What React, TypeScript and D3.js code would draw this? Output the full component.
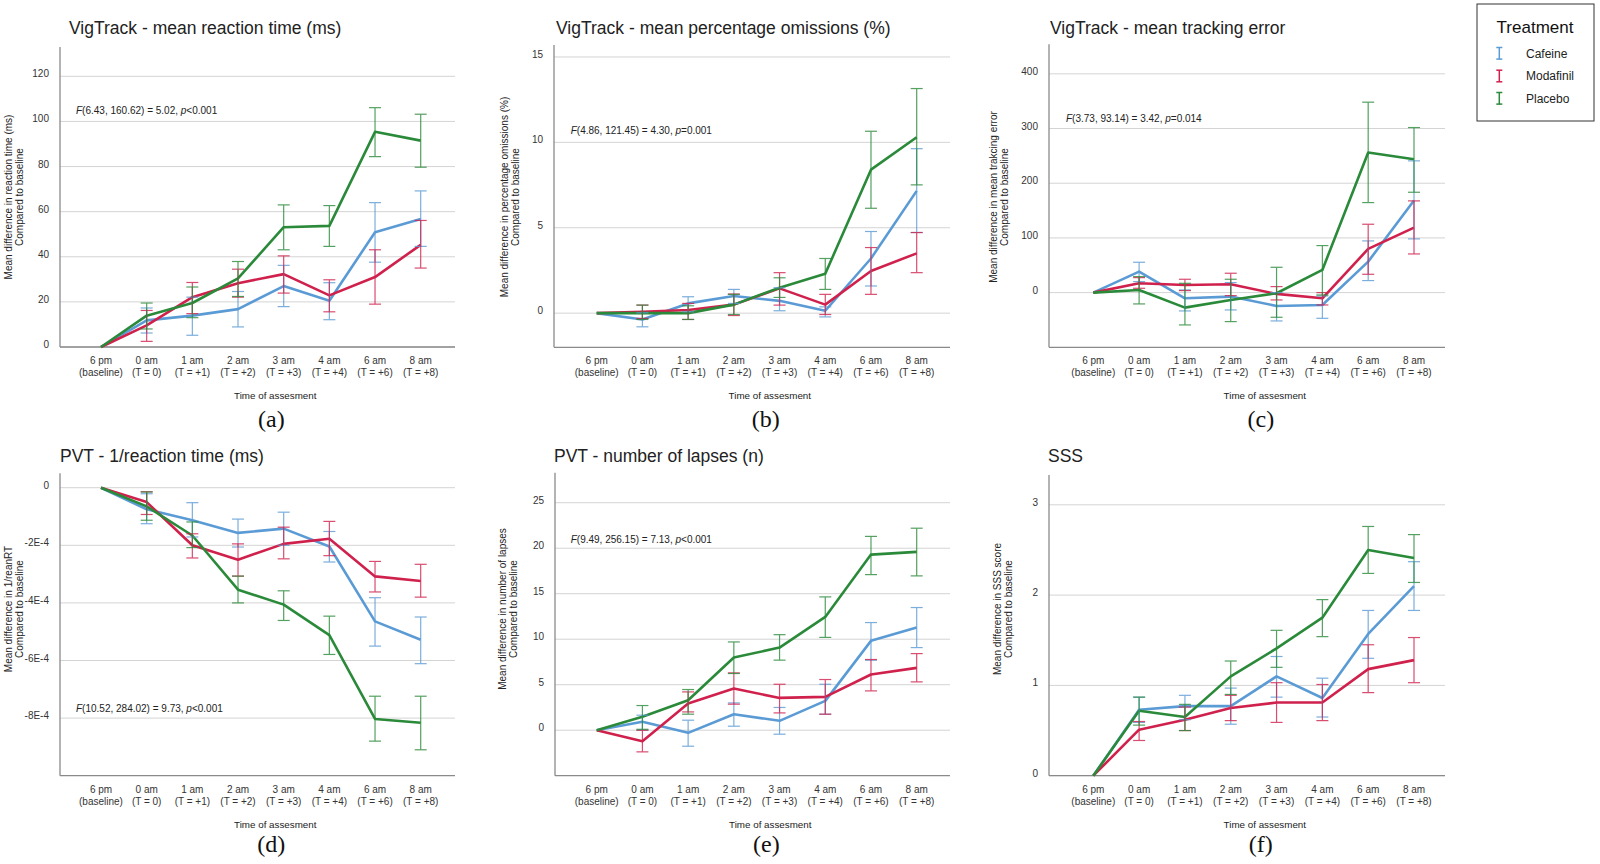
import React from 'react';
import * as d3 from 'd3';

// x categories (two-line tick labels)
const timeLabels: [string, string][] = [
  ['6 pm', '(baseline)'],
  ['0 am', '(T = 0)'],
  ['1 am', '(T = +1)'],
  ['2 am', '(T = +2)'],
  ['3 am', '(T = +3)'],
  ['4 am', '(T = +4)'],
  ['6 am', '(T = +6)'],
  ['8 am', '(T = +8)'],
];
const treatments = ['Cafeine', 'Modafinil', 'Placebo'];
const treatmentColors = ['#5b9bd5', '#d0214d', '#2a8a3a'];

// each point: [mean, lower CI, upper CI]
type Pt = [number, number, number];

// (a) VigTrack - mean reaction time
const rtCafeine: Pt[] = [[0, 0, 0], [11.8, 6.2, 17.3], [13.9, 5.2, 22.1], [16.8, 8.9, 24.6], [27.0, 17.9, 36.2], [20.5, 12.1, 28.5], [50.9, 37.6, 64.0], [56.8, 44.6, 69.2]];
const rtModafinil: Pt[] = [[0, 0, 0], [9.6, 2.5, 16.2], [22.1, 14.8, 28.6], [28.3, 22.1, 34.5], [32.3, 23.9, 40.4], [22.9, 15.6, 29.8], [31.0, 19.0, 43.1], [45.3, 35.0, 56.1]];
const rtPlacebo: Pt[] = [[0, 0, 0], [13.9, 8.0, 19.5], [19.5, 13.0, 26.6], [30.4, 22.4, 37.9], [53.1, 43.1, 63.0], [53.7, 44.6, 62.7], [95.4, 84.4, 106.1], [91.5, 79.7, 103.2]];
const rtTicks = [0, 20, 40, 60, 80, 100, 120];

// (b) VigTrack - mean percentage omissions
const omCafeine: Pt[] = [[0, 0, 0], [-0.37, -0.8, 0.02], [0.57, 0.08, 0.96], [1.0, 0.57, 1.39], [0.72, 0.14, 1.49], [0.14, -0.22, 0.37], [3.2, 1.59, 4.78], [7.16, 4.72, 9.63]];
const omModafinil: Pt[] = [[0, 0, 0], [0.08, -0.31, 0.47], [0.18, -0.37, 0.57], [0.5, -0.14, 1.12], [1.45, 0.47, 2.37], [0.5, -0.08, 1.1], [2.47, 1.1, 3.84], [3.5, 2.37, 4.72]];
const omPlacebo: Pt[] = [[0, 0, 0], [0.0, -0.37, 0.47], [0.0, -0.37, 0.43], [0.5, -0.08, 1.1], [1.49, 0.92, 2.07], [2.31, 1.39, 3.2], [8.4, 6.14, 10.65], [10.3, 7.51, 13.15]];
const omTicks = [0, 5, 10, 15];

// (c) VigTrack - mean tracking error
const teCafeine: Pt[] = [[0, 0, 0], [38.4, 20.1, 55.5], [-10.4, -33.5, 4.9], [-7.3, -31.7, 18.3], [-24.4, -51.8, 0], [-22.6, -47, -6.1], [56.7, 22, 94.5], [168.3, 98.2, 240.9]];
const teModafinil: Pt[] = [[0, 0, 0], [17.1, 7.9, 27.4], [14, 3.7, 24.4], [15.2, -5.5, 35.4], [-2.4, -13.4, 11], [-10.4, -22.6, 0], [79.9, 33.5, 125], [118.9, 70.7, 167.7]];
const tePlacebo: Pt[] = [[0, 0, 0], [4.9, -20.7, 29.3], [-27.4, -59.1, 17], [-13.4, -53, 24.4], [-1.2, -45.1, 46.3], [41.5, -4.3, 86], [256.1, 164.6, 348.2], [243.9, 183.5, 301.8]];
const teTicks = [0, 100, 200, 300, 400];

// (d) PVT - 1/reaction time
const irCafeine: Pt[] = [[0, 0, 0], [-0.75e-4, -1.25e-4, -0.21e-4], [-1.13e-4, -1.71e-4, -0.52e-4], [-1.57e-4, -2.06e-4, -1.09e-4], [-1.42e-4, -2.0e-4, -0.85e-4], [-2.04e-4, -2.58e-4, -1.52e-4], [-4.64e-4, -5.5e-4, -3.82e-4], [-5.28e-4, -6.11e-4, -4.49e-4]];
const irModafinil: Pt[] = [[0, 0, 0], [-0.5e-4, -0.93e-4, -0.14e-4], [-2.0e-4, -2.44e-4, -1.6e-4], [-2.5e-4, -3.07e-4, -1.95e-4], [-1.95e-4, -2.47e-4, -1.37e-4], [-1.77e-4, -2.36e-4, -1.17e-4], [-3.08e-4, -3.62e-4, -2.56e-4], [-3.24e-4, -3.8e-4, -2.66e-4]];
const irPlacebo: Pt[] = [[0, 0, 0], [-0.65e-4, -1.13e-4, -0.15e-4], [-1.66e-4, -2.08e-4, -1.19e-4], [-3.54e-4, -4.0e-4, -3.07e-4], [-4.06e-4, -4.61e-4, -3.58e-4], [-5.12e-4, -5.79e-4, -4.46e-4], [-8.03e-4, -8.8e-4, -7.24e-4], [-8.16e-4, -9.1e-4, -7.24e-4]];
const irTicks = [0, -2e-4, -4e-4, -6e-4, -8e-4];

// (e) PVT - number of lapses
const lpCafeine: Pt[] = [[0, 0, 0], [0.92, 0, 1.65], [-0.29, -1.76, 1.1], [1.76, 0.44, 3.0], [1.03, -0.44, 2.5], [3.22, 1.76, 5.05], [9.82, 7.69, 11.83], [11.28, 9.08, 13.48]];
const lpModafinil: Pt[] = [[0, 0, 0], [-1.21, -2.38, 0], [2.93, 2.01, 4.21], [4.58, 2.86, 6.3], [3.55, 1.9, 5.05], [3.66, 1.76, 5.57], [6.12, 4.32, 7.77], [6.85, 5.31, 8.42]];
const lpPlacebo: Pt[] = [[0, 0, 0], [1.47, 0.1, 2.71], [3.3, 1.76, 4.47], [7.99, 6.23, 9.7], [9.08, 7.7, 10.5], [12.45, 10.2, 14.65], [19.3, 17.1, 21.3], [19.6, 16.96, 22.2]];
const lpTicks = [0, 5, 10, 15, 20, 25];

// (f) SSS
const ssCafeine: Pt[] = [[0, 0, 0], [0.73, 0.59, 0.87], [0.77, 0.62, 0.89], [0.77, 0.57, 0.97], [1.1, 0.87, 1.32], [0.86, 0.65, 1.08], [1.57, 1.3, 1.83], [2.1, 1.83, 2.37]];
const ssModafinil: Pt[] = [[0, 0, 0], [0.51, 0.39, 0.6], [0.62, 0.5, 0.76], [0.75, 0.61, 0.89], [0.81, 0.59, 1.03], [0.81, 0.61, 1.01], [1.18, 0.92, 1.45], [1.28, 1.03, 1.53]];
const ssPlacebo: Pt[] = [[0, 0, 0], [0.72, 0.56, 0.87], [0.65, 0.5, 0.79], [1.1, 0.9, 1.27], [1.41, 1.2, 1.61], [1.75, 1.54, 1.95], [2.5, 2.24, 2.76], [2.41, 2.14, 2.67]];
const ssTicks = [0, 1, 2, 3];

const plain = (v: number) => String(v);
const sci = (v: number) => (v === 0 ? '0' : `${Math.round(v / 1e-4)}E-4`);

const panels = [
  { caption: '(a)', title: 'VigTrack - mean reaction time (ms)', yLabel: ['Mean difference in reaction time (ms)', 'Compared to baseline'], stats: 'F(6.43, 160.62) = 5.02, p<0.001', series: [rtCafeine, rtModafinil, rtPlacebo], yDomain: [0, 133], ticks: rtTicks, fmt: plain },
  { caption: '(b)', title: 'VigTrack - mean percentage omissions (%)', yLabel: ['Mean difference in percentage omissions (%)', 'Compared to baseline'], stats: 'F(4.86, 121.45) = 4.30, p=0.001', series: [omCafeine, omModafinil, omPlacebo], yDomain: [-2, 15.7], ticks: omTicks, fmt: plain },
  { caption: '(c)', title: 'VigTrack - mean tracking error', yLabel: ['Mean difference in mean trakcing error', 'Compared to baseline'], stats: 'F(3.73, 93.14) = 3.42, p=0.014', series: [teCafeine, teModafinil, tePlacebo], yDomain: [-100, 454], ticks: teTicks, fmt: plain },
  { caption: '(d)', title: 'PVT - 1/reaction time (ms)', yLabel: ['Mean difference in 1/reanRT', 'Compared to baseline'], stats: 'F(10.52, 284.02) = 9.73, p<0.001', series: [irCafeine, irModafinil, irPlacebo], yDomain: [-10e-4, 0.5e-4], ticks: irTicks, fmt: sci },
  { caption: '(e)', title: 'PVT - number of lapses (n)', yLabel: ['Mean difference in number of lapses', 'Compared to baseline'], stats: 'F(9.49, 256.15) = 7.13, p<0.001', series: [lpCafeine, lpModafinil, lpPlacebo], yDomain: [-5, 28.3], ticks: lpTicks, fmt: plain },
  { caption: '(f)', title: 'SSS', yLabel: ['Mean difference in SSS score', 'Compared to baseline'], stats: '', series: [ssCafeine, ssModafinil, ssPlacebo], yDomain: [0, 3.33], ticks: ssTicks, fmt: plain },
];

// pixel layout of each panel
const layouts = [
  { left: 60, right: 455, top: 47, bottom: 347, xFirst: 101, xLast: 420.7, titleX: 69, titleY: 34, statsDx: 16, statsDy: 67, yLabDx: -51.7, yLabY: 197, capY: 427 },
  { left: 554, right: 950, top: 45, bottom: 347.3, xFirst: 596.7, xLast: 916.7, titleX: 556, titleY: 34, statsDx: 16.7, statsDy: 89, yLabDx: -50, yLabY: 197, capY: 427 },
  { left: 1049, right: 1445, top: 44.3, bottom: 347.3, xFirst: 1093.3, xLast: 1414, titleX: 1050, titleY: 34, statsDx: 17, statsDy: 77.4, yLabDx: -55.7, yLabY: 197, capY: 427 },
  { left: 60, right: 455, top: 473.3, bottom: 775.7, xFirst: 101, xLast: 420.7, titleX: 60, titleY: 461.7, statsDx: 16, statsDy: 238.4, yLabDx: -51.7, yLabY: 609, capY: 852 },
  { left: 555, right: 950, top: 472.7, bottom: 775.7, xFirst: 596.7, xLast: 916.7, titleX: 554, titleY: 461.7, statsDx: 15.7, statsDy: 70, yLabDx: -53, yLabY: 609, capY: 852 },
  { left: 1049, right: 1445, top: 475, bottom: 775.7, xFirst: 1093.3, xLast: 1414, titleX: 1048, titleY: 461.7, statsDx: 17, statsDy: 0, yLabDx: -52, yLabY: 609, capY: 852 },
];

const FONT = "'Liberation Sans', Arial, sans-serif";

const Panel = ({ spec, lay }: { spec: typeof panels[number]; lay: typeof layouts[number] }) => {
  const x = d3.scalePoint<number>().domain(d3.range(timeLabels.length)).range([lay.xFirst, lay.xLast]);
  const y = d3.scaleLinear().domain(spec.yDomain).range([lay.bottom, lay.top]);
  const line = d3.line<Pt>().x((_, i) => x(i)!).y((d) => y(d[0]));
  const m = spec.stats.match(/^F(.*, )p(.*)$/);
  const midX = lay.left + 0.545 * (lay.right - lay.left);

  return (
    <g fontFamily={FONT}>
      <text x={lay.titleX} y={lay.titleY} fontSize={17.5} fill="#222">{spec.title}</text>

      {spec.ticks.map((t) => (
        <g key={t}>
          <line x1={lay.left} x2={lay.right} y1={y(t)} y2={y(t)} stroke="#d4d4d4" strokeWidth={1} />
          <text x={lay.left - 11} y={y(t) + 1} textAnchor="end" fontSize={10} fill="#333">{spec.fmt(t)}</text>
        </g>
      ))}
      <line x1={lay.left} x2={lay.left} y1={lay.top} y2={lay.bottom} stroke="#8a8a8a" strokeWidth={1.3} />
      <line x1={lay.left} x2={lay.right} y1={lay.bottom} y2={lay.bottom} stroke="#8a8a8a" strokeWidth={1.3} />

      {timeLabels.map((lb, i) => (
        <text key={i} x={x(i)} textAnchor="middle" fontSize={10} fill="#333">
          <tspan x={x(i)} y={lay.bottom + 17}>{lb[0]}</tspan>
          <tspan x={x(i)} y={lay.bottom + 29}>{lb[1]}</tspan>
        </text>
      ))}
      <text x={midX} y={lay.bottom + 52} textAnchor="middle" fontSize={9.8} fill="#222">Time of assesment</text>

      {spec.yLabel.map((s, k) => {
        const lx = lay.left + lay.yLabDx + 3.5 + k * 11.5;
        return (
          <text key={k} transform={`translate(${lx},${lay.yLabY}) rotate(-90)`} textAnchor="middle" fontSize={10} fill="#222">{s}</text>
        );
      })}

      {m && (
        <text x={lay.left + lay.statsDx} y={lay.top + lay.statsDy} fontSize={10} fill="#222">
          <tspan fontStyle="italic">F</tspan>
          <tspan>{m[1]}</tspan>
          <tspan fontStyle="italic">p</tspan>
          <tspan>{m[2]}</tspan>
        </text>
      )}

      {spec.series.map((s, k) => (
        <path key={k} d={line(s) || ''} fill="none" stroke={treatmentColors[k]} strokeWidth={2.6} strokeLinejoin="round" />
      ))}
      {spec.series.map((s, k) => (
        <g key={k} stroke={treatmentColors[k]} strokeWidth={1.2} opacity={0.8}>
          {s.map((d, i) =>
            d[1] === d[2] ? null : (
              <g key={i}>
                <line x1={x(i)} x2={x(i)} y1={y(d[1])} y2={y(d[2])} />
                <line x1={x(i)! - 6} x2={x(i)! + 6} y1={y(d[1])} y2={y(d[1])} />
                <line x1={x(i)! - 6} x2={x(i)! + 6} y1={y(d[2])} y2={y(d[2])} />
              </g>
            )
          )}
        </g>
      ))}

      <text x={lay.left + 0.535 * (lay.right - lay.left)} y={lay.capY} textAnchor="middle" fontSize={24} fontFamily="'Liberation Serif', 'Times New Roman', serif" fill="#111">{spec.caption}</text>
    </g>
  );
};

const Legend = () => {
  const rows = [53.3, 76, 98.3];
  return (
    <g fontFamily={FONT}>
      <rect x={1477} y={4} width={117} height={117} fill="#fff" stroke="#333" strokeWidth={1} />
      <text x={1535} y={33} textAnchor="middle" fontSize={17} fill="#111">Treatment</text>
      {treatments.map((t, k) => (
        <g key={t}>
          <g stroke={treatmentColors[k]} strokeWidth={1.5}>
            <line x1={1499.3} x2={1499.3} y1={rows[k] - 5.8} y2={rows[k] + 5.8} />
            <line x1={1496.3} x2={1502.3} y1={rows[k] - 5.8} y2={rows[k] - 5.8} />
            <line x1={1496.3} x2={1502.3} y1={rows[k] + 5.8} y2={rows[k] + 5.8} />
          </g>
          <text x={1526} y={rows[k] + 4.3} fontSize={12} fill="#222">{t}</text>
        </g>
      ))}
    </g>
  );
};

export default function App() {
  return (
    <svg width={1600} height={864} style={{ position: 'absolute', left: 0, top: 0, background: '#fff' }}>
      <rect width={1600} height={864} fill="#fff" />
      {panels.map((p, i) => (
        <Panel key={p.caption} spec={p} lay={layouts[i]} />
      ))}
      <Legend />
    </svg>
  );
}
